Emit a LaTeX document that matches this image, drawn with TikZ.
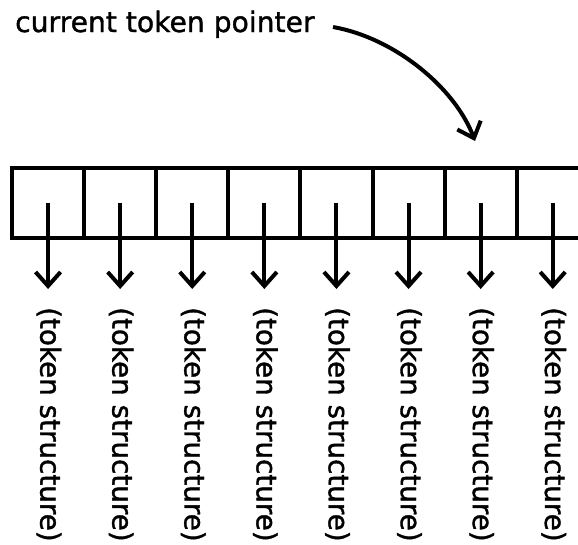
\documentclass[tikz,border=0pt]{standalone}
\usepackage{fontspec}
\setmainfont{DejaVu Sans}
\newfontfamily\heavy{DejaVu Sans}[FakeBold=1.3]
\usetikzlibrary{arrows.meta}
\begin{document}
\begin{tikzpicture}[x=1pt,y=-1pt,
  cell/.style={draw, line width=4pt, minimum width=72.1pt, minimum height=70pt, inner sep=0pt, outer sep=0pt},
  ptr/.style={line width=4pt, -{Straight Barb[length=14pt,width=25pt]}},
  lbl/.style={rotate=-90, anchor=west, inner sep=0pt, font=\heavy\fontsize{27.8}{32}\selectfont},
  title/.style={anchor=base west, inner sep=0pt, font=\heavy\fontsize{28.2}{32}\selectfont},
  curvearrow/.style={line width=4pt, -{Straight Barb[length=14pt,width=25pt]}}
]
\useasboundingbox (0,0) rectangle (578,544);
\clip (0,0) rectangle (578,544);
\foreach \i in {1,...,8} {
  \node[cell] (c\i) at ({12+72.1*(\i-0.5)},203) {};
  \node[lbl] (l\i) at ({13+72.1*(\i-0.5)},307) {(token structure)};
  \draw[ptr, shorten >=18pt] (c\i.center) -- (c\i.center |- l\i.west);
}
\node[title] (t) at (15,32) {current token pointer};
\coordinate (ps) at (333,27);
\coordinate (pe) at (475,141);
\draw[curvearrow] (ps) .. controls (395,38) and (455,88) .. (pe);
\end{tikzpicture}
\end{document}
